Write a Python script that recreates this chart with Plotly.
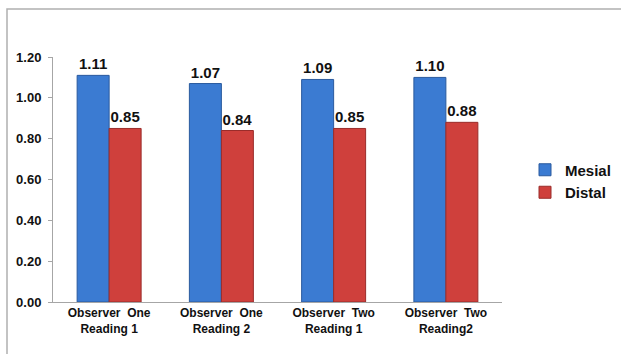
import plotly.graph_objects as go

categories = ["Observer  One<br>Reading 1", "Observer  One<br>Reading 2",
              "Observer  Two<br>Reading 1", "Observer  Two<br>Reading2"]
mesial = [1.11, 1.07, 1.09, 1.10]
distal = [0.85, 0.84, 0.85, 0.88]
y_ticks = [0.0, 0.2, 0.4, 0.6, 0.8, 1.0, 1.2]

font_family = "Liberation Sans, Arial, sans-serif"
bold = lambda size: dict(size=size, family=font_family, color="#111", weight="bold")

fig = go.Figure()
fig.add_trace(go.Bar(
    name="Mesial", x=categories, y=mesial,
    marker=dict(color="#3b7bd2", line=dict(color="#2a5a9e", width=1)),
    text=[f"{v:.2f}" for v in mesial], textposition="outside",
    textfont=bold(15), cliponaxis=False,
))
fig.add_trace(go.Bar(
    name="Distal", x=categories, y=distal,
    marker=dict(color="#cf403c", line=dict(color="#9a2c2a", width=1)),
    text=[f"{v:.2f}" for v in distal], textposition="outside",
    textfont=bold(15), cliponaxis=False,
))

fig.update_layout(
    width=621, height=354,
    margin=dict(l=53, r=119, t=57, b=52, autoexpand=False),
    paper_bgcolor="white", plot_bgcolor="white",
    barmode="group", bargap=0.43, bargroupgap=0,
    font=dict(family=font_family, color="#111", size=12),
    showlegend=True,
    legend=dict(
        xref="container", yref="container",
        x=525 / 621, xanchor="left", y=1 - 181 / 354, yanchor="middle",
        font=bold(15), itemwidth=30, tracegroupgap=0,
        bgcolor="rgba(0,0,0,0)",
    ),
)
fig.update_xaxes(
    showline=True, linecolor="#a6a6a6", linewidth=1,
    ticks="", showgrid=False, tickfont=bold(12),
)
fig.update_yaxes(
    range=[0, 1.2], tickvals=y_ticks, ticktext=[f"{v:.2f}" for v in y_ticks],
    showline=True, linecolor="#a6a6a6", linewidth=1,
    ticks="outside", ticklen=4, tickcolor="#a6a6a6",
    ticklabelstandoff=4,
    showgrid=False, zeroline=False, tickfont=bold(13),
)

# outer frame around the chart area
fig.add_shape(type="rect", xref="paper", yref="paper",
              x0=(7 - 53) / 449, x1=(640 - 53) / 449,
              y0=(302 - 380) / 245, y1=(302 - 9) / 245,
              line=dict(color="#b0b0b0", width=1.5), layer="below")

fig.write_html("out.html")
